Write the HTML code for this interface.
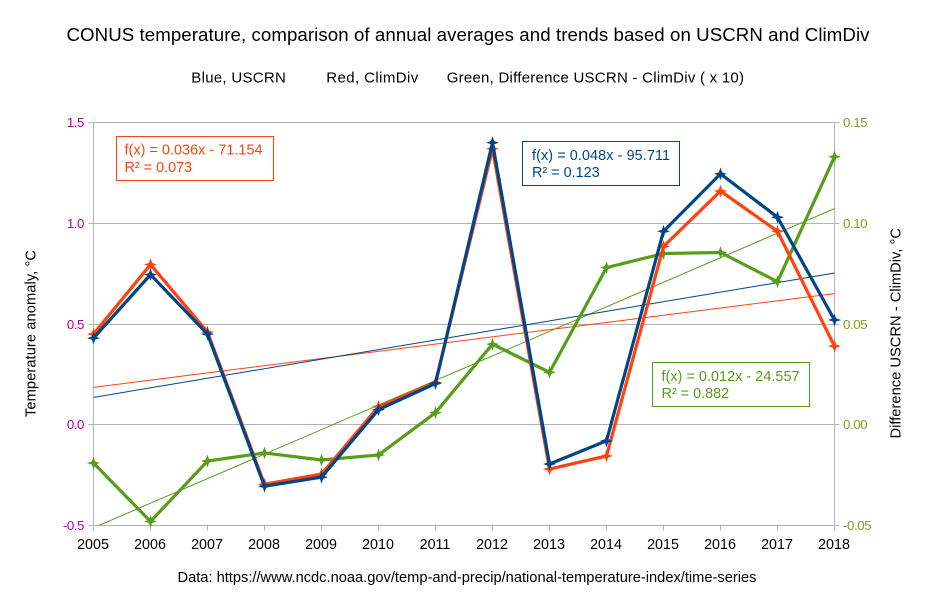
<!DOCTYPE html>
<html lang="en">
<head>
<meta charset="utf-8">
<title>CONUS temperature comparison</title>
<style>
html,body{margin:0;padding:0;background:#fff;}
#chart{display:block;width:934px;height:604px;font-family:"Liberation Sans",sans-serif;}
</style>
</head>
<body>
<svg id="chart" xmlns="http://www.w3.org/2000/svg" width="934" height="604" viewBox="0 0 934 604">
  <rect width="934" height="604" fill="#fff"/>
  <text x="66.5" y="41" font-size="18.67" textLength="803" fill="#000">CONUS temperature, comparison of annual averages and trends based on USCRN and ClimDiv</text>
  <text x="191.3" y="82.5" font-size="15" textLength="94.5" fill="#000">Blue, USCRN</text>
  <text x="326.3" y="82.5" font-size="15" textLength="92" fill="#000">Red, ClimDiv</text>
  <text x="446.7" y="82.5" font-size="15" textLength="297.3" fill="#000">Green, Difference USCRN - ClimDiv ( x 10)</text>
  <g id="grid"></g>
  <g id="axes"></g>
  <g id="trends"></g>
  <g id="series"></g>
  <text transform="translate(35.5 417) rotate(-90)" font-size="14.67" textLength="167" fill="#000">Temperature anomaly, °C</text>
  <text transform="translate(900.5 438.5) rotate(-90)" font-size="14.67" textLength="210.5" fill="#000">Difference USCRN - ClimDiv, °C</text>
  <g>
    <rect x="116.5" y="136.5" width="157" height="44" fill="#fff" stroke="#ff420e" stroke-width="1"/>
    <text x="124.5" y="154.5" font-size="14.4" textLength="138" fill="#ff420e">f(x) = 0.036x - 71.154</text>
    <text x="124.5" y="172" font-size="14.4" fill="#ff420e">R² = 0.073</text>
  </g>
  <g>
    <rect x="522.5" y="141.5" width="157" height="44" fill="#fff" stroke="#004586" stroke-width="1"/>
    <text x="532" y="160" font-size="14.4" textLength="138" fill="#004586">f(x) = 0.048x - 95.711</text>
    <text x="532" y="177" font-size="14.4" fill="#004586">R² = 0.123</text>
  </g>
  <g>
    <rect x="652.5" y="362.5" width="157" height="44" fill="#fff" stroke="#579d1c" stroke-width="1"/>
    <text x="661.5" y="381" font-size="14.4" textLength="138" fill="#579d1c">f(x) = 0.012x - 24.557</text>
    <text x="661.5" y="398" font-size="14.4" fill="#579d1c">R² = 0.882</text>
  </g>
  <text x="177.5" y="582" font-size="14.67" textLength="579" fill="#000">Data: https://www.ncdc.noaa.gov/temp-and-precip/national-temperature-index/time-series</text>
</svg>
<script>
const years = [2005,2006,2007,2008,2009,2010,2011,2012,2013,2014,2015,2016,2017,2018];
const uscrn = [0.43,0.745,0.45,-0.305,-0.26,0.075,0.205,1.40,-0.195,-0.08,0.96,1.245,1.03,0.52];
const climdiv = [0.45,0.795,0.46,-0.295,-0.245,0.09,0.21,1.37,-0.22,-0.155,0.885,1.16,0.96,0.39];
const difference = [-0.019,-0.048,-0.018,-0.014,-0.0175,-0.015,0.006,0.040,0.026,0.078,0.085,0.0855,0.071,0.133];
const leftTicks = ["-0.5","0.0","0.5","1.0","1.5"];
const rightTicks = ["-0.05","0.00","0.05","0.10","0.15"];

const NS = 'http://www.w3.org/2000/svg';
const plotL = 93.5, plotR = 834.5, plotT = 122.5, plotB = 525.5;
function xScale(year){ return plotL + (year - years[0]) / (years[years.length-1] - years[0]) * (plotR - plotL); }
function yLeft(v){ return plotB - (v + 0.5) / 2 * (plotB - plotT); }
function yRight(v){ return plotB - (v + 0.05) / 0.2 * (plotB - plotT); }
function make(tag, attrs, parent){
  const el = document.createElementNS(NS, tag);
  for (const k in attrs) el.setAttribute(k, attrs[k]);
  parent.appendChild(el);
  return el;
}
const gridG = document.getElementById('grid');
const axesG = document.getElementById('axes');
const trendsG = document.getElementById('trends');
const seriesG = document.getElementById('series');
const AX = '#b3b3b3';

leftTicks.forEach(function(t){
  const y = Math.round(yLeft(parseFloat(t)) - 0.5) + 0.5;
  const line = make('line', {x1:plotL-5, x2:plotR+5, y1:y, y2:y, stroke:AX, 'stroke-width':1}, gridG);
  
  
  const lab = make('text', {x:plotL-9.5, y:y+4.5, 'font-size':13.33, 'letter-spacing':-0.45, 'text-anchor':'end', fill:'#a800a8'}, axesG);
  
  
  lab.textContent = t;
});
rightTicks.forEach(function(t){
  const y = Math.round(yRight(parseFloat(t)) - 0.5) + 0.5;
  const lab = make('text', {x:plotR+8.5, y:y+4.5, 'font-size':13.33, 'letter-spacing':-0.45, fill:'#7f9f1c'}, axesG);
  
  
  lab.textContent = t;
});
[plotL, plotR].forEach(function(x){
  const line = make('line', {x1:x, x2:x, y1:plotT, y2:plotB, stroke:AX, 'stroke-width':1}, axesG);
  
  
});
years.forEach(function(yr){
  const x = Math.round(xScale(yr) - 0.5) + 0.5;
  const tick = make('line', {x1:x, x2:x, y1:plotB, y2:plotB+5, stroke:AX, 'stroke-width':1}, axesG);
  
  
  const lab = make('text', {x:x-0.5, y:plotB+23.5, 'font-size':14.3, 'text-anchor':'middle', fill:'#000'}, axesG);
  
  
  lab.textContent = yr;
});

const clip = make('clipPath', {id:'plot-clip'}, make('defs', {}, document.getElementById('chart')));
make('rect', {x:plotL, y:plotT, width:plotR-plotL, height:plotB-plotT}, clip);

function fit(vals){
  const n = vals.length;
  const mx = years.reduce(function(a,b){return a+b;},0) / n;
  const my = vals.reduce(function(a,b){return a+b;},0) / n;
  let sxy = 0, sxx = 0;
  years.forEach(function(yr,i){ sxy += (yr-mx)*(vals[i]-my); sxx += (yr-mx)*(yr-mx); });
  const m = sxy / sxx;
  return function(yr){ return my + m*(yr-mx); };
}
function drawTrend(vals, yFn, color){
  const f = fit(vals);
  const a = years[0], b = years[years.length-1];
  const line = make('line', {x1:xScale(a), y1:yFn(f(a)), x2:xScale(b), y2:yFn(f(b)), stroke:color, 'stroke-width':1, 'clip-path':'url(#plot-clip)'}, trendsG);
  
  
}
function drawSeries(vals, yFn, color){
  const pts = vals.map(function(v,i){ return xScale(years[i]) + ',' + yFn(v); }).join(' ');
  const poly = make('polyline', {points:pts, fill:'none', stroke:color, 'stroke-width':3.2, 'stroke-linejoin':'miter'}, seriesG);
  
  
  vals.forEach(function(v,i){
    const x = xScale(years[i]), y = yFn(v);
    const star = 'M'+x+' '+(y-5.5)+'L'+(x+1.4)+' '+(y-1.4)+'L'+(x+5.5)+' '+y+'L'+(x+1.4)+' '+(y+1.4)+'L'+x+' '+(y+5.5)+'L'+(x-1.4)+' '+(y+1.4)+'L'+(x-5.5)+' '+y+'L'+(x-1.4)+' '+(y-1.4)+'Z';
    const m = make('path', {d:star, stroke:color, 'stroke-width':0.6, fill:color}, seriesG);
    
    
  });
}
drawTrend(difference, yRight, '#579d1c');
drawTrend(climdiv, yLeft, '#ff420e');
drawTrend(uscrn, yLeft, '#004586');
drawSeries(difference, yRight, '#579d1c');
drawSeries(climdiv, yLeft, '#ff420e');
drawSeries(uscrn, yLeft, '#004586');
</script>
</body>
</html>
